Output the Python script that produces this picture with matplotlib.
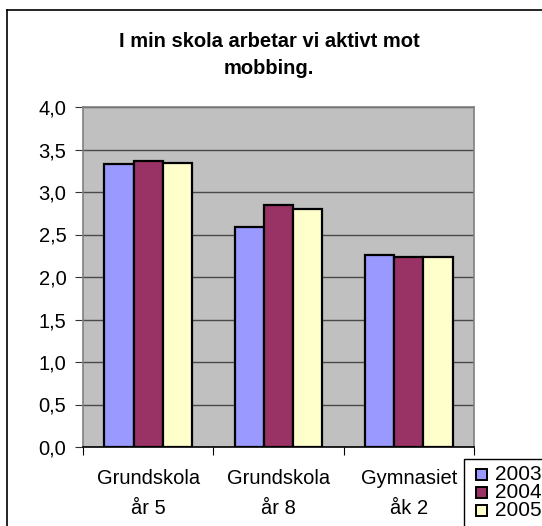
import matplotlib
matplotlib.use("Agg")
import matplotlib.pyplot as plt
from matplotlib.lines import Line2D
from matplotlib.patches import Rectangle
import numpy as np

plt.rcParams['font.family'] = ['Liberation Sans', 'DejaVu Sans']

title = "I min skola arbetar vi aktivt mot\nmobbing."
categories = ["Grundskola\når 5", "Grundskola\når 8", "Gymnasiet\nåk 2"]
series_names = ["2003", "2004", "2005"]
values_2003 = [3.33, 2.59, 2.26]
values_2004 = [3.36, 2.85, 2.23]
values_2005 = [3.34, 2.80, 2.23]
colors = ["#9999FF", "#993366", "#FFFFCC"]
yticks = [0.0, 0.5, 1.0, 1.5, 2.0, 2.5, 3.0, 3.5, 4.0]

W, H = 542, 526
fig = plt.figure(figsize=(W / 100, H / 100), dpi=100)
fig.patch.set_facecolor("white")

def fx(px):
    return px / W

def fy(py):
    return 1 - py / H

# outer chart frame (top and left visible, rest runs off the image)
fig.add_artist(Line2D([fx(7), 1.0], [fy(10), fy(10)], transform=fig.transFigure,
                      color="black", lw=1.2))
fig.add_artist(Line2D([fx(7), fx(7)], [fy(10), 0.0], transform=fig.transFigure,
                      color="black", lw=1.2))

ax = fig.add_axes([fx(83), fy(447), (474 - 83) / W, (447 - 107) / H])
ax.set_facecolor("#C0C0C0")

x = np.arange(len(categories))
bw = 0.225
for i, (vals, c) in enumerate(zip([values_2003, values_2004, values_2005], colors)):
    ax.bar(x + (i - 1) * bw, vals, width=bw, color=c, edgecolor="black", linewidth=1.6,
           zorder=3, label=series_names[i])

ax.set_xlim(-0.5, len(categories) - 0.5)
ax.set_ylim(0, 4.0)
ax.set_yticks(yticks)
ax.set_yticklabels([f"{t:.1f}".replace(".", ",") for t in yticks], fontsize=14.5)
ax.yaxis.grid(True, color="#4a4a4a", linewidth=1.0, zorder=1)
ax.set_axisbelow(True)

ax.set_xticks(np.arange(-0.5, len(categories) + 0.5, 1.0))
ax.set_xticklabels([])
ax.set_xticks(x, minor=True)
ax.set_xticklabels(categories, minor=True, fontsize=14.5, linespacing=1.7)
ax.tick_params(axis="x", which="minor", length=0, pad=16)
ax.tick_params(axis="x", which="major", length=6, color="black", direction="out")
ax.tick_params(axis="y", length=6, color="#333333", direction="out", pad=6)

for s in ["top", "right", "left"]:
    ax.spines[s].set_color("#808080")
    ax.spines[s].set_linewidth(1.2)
ax.spines["bottom"].set_color("black")
ax.spines["bottom"].set_linewidth(1.2)

fig.text(fx(269), fy(55), title, ha="center", va="center", fontsize=14.5,
         fontweight="bold", linespacing=1.55)

# legend box (runs off the bottom-right of the image)
fig.add_artist(Rectangle((fx(464), fy(540)), fx(600) - fx(464), fy(459) - fy(540),
                         transform=fig.transFigure, facecolor="white",
                         edgecolor="black", lw=1.0, zorder=5))
for i, (name, c) in enumerate(zip(series_names, colors)):
    cy = 474 + 18 * i
    fig.add_artist(Rectangle((fx(476), fy(cy + 5.5)), 11 / W, 11 / H,
                             transform=fig.transFigure, facecolor=c,
                             edgecolor="black", lw=1.4, zorder=6))
    fig.text(fx(495), fy(cy), name, ha="left", va="center", fontsize=15, zorder=7)

fig.savefig("out.png", dpi=100)
